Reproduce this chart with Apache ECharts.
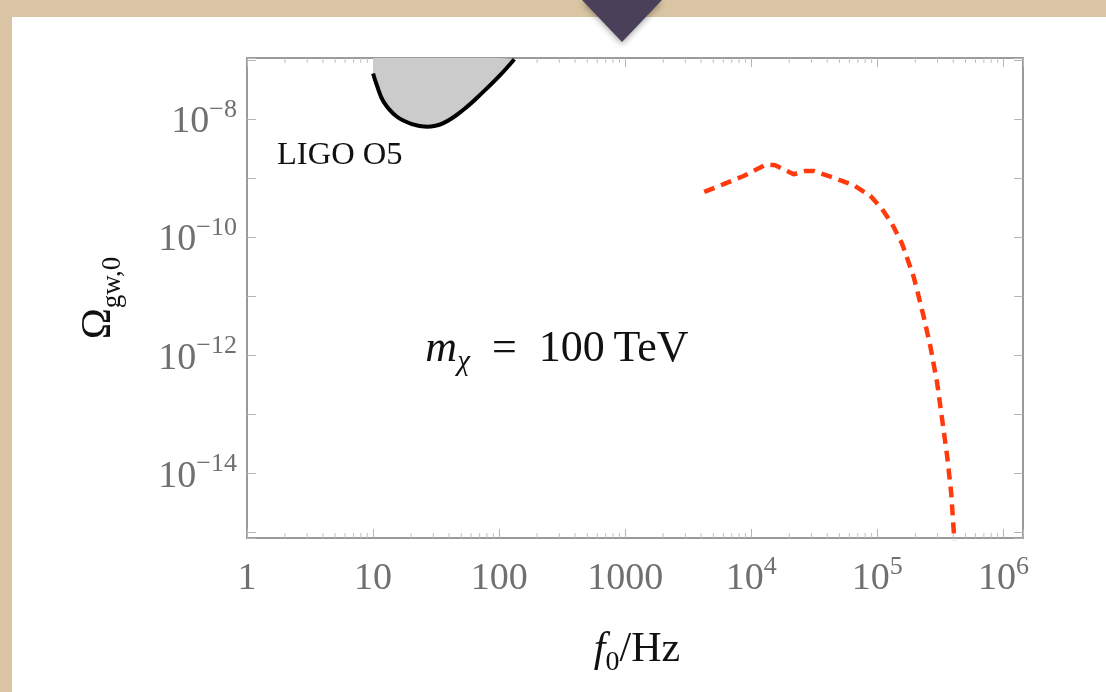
<!DOCTYPE html>
<html><head><meta charset="utf-8">
<script src="https://cdn.jsdelivr.net/npm/echarts@6/dist/echarts.min.js"></script>
<style>html,body{margin:0;padding:0;background:#d9c5a3;overflow:hidden}#c{width:1106px;height:692px}</style>
</head><body><div id="c"></div>
<script>
// LIGO O5 sensitivity curve (Hz, Omega)
const ligoFreq  = [10, 10.7, 12.1, 15.4, 20.3, 26.7, 36.1, 52.1, 75.1, 101.8, 132];
const ligoOmega = [6.0e-8, 3.83e-8, 2.01e-8, 1.12e-8, 8.34e-9, 7.54e-9, 8.67e-9, 1.46e-8, 2.96e-8, 5.64e-8, 1.05e-7];
// signal spectrum for m_chi = 100 TeV
const sigFreq  = [4236, 6026, 8690, 13150, 15490, 21660, 26850, 31200, 44980, 64840, 87960, 108900, 130900, 157100, 194200, 206600, 232900, 263400, 297800, 326200, 357300, 384600, 409000];
const sigOmega = [5.93e-10, 8.0e-10, 1.10e-9, 1.73e-9, 1.67e-9, 1.18e-9, 1.34e-9, 1.34e-9, 1.03e-9, 7.69e-10, 5.08e-10, 3.04e-10, 1.70e-10, 7.83e-11, 2.15e-11, 1.29e-11, 4.58e-12, 1.43e-12, 3.48e-13, 8.4e-14, 2.03e-14, 4.92e-15, 7e-16];
// tick labels keyed by decade exponent
const xTickLabels = {0:'{b|1}', 1:'{b|10}', 2:'{b|100}', 3:'{b|1000}', 4:'{b|10}{s|4}', 5:'{b|10}{s|5}', 6:'{b|10}{s|6}'};
const yTickLabels = {'-8':'{b|10}{s|\u22128}', '-10':'{b|10}{s|\u221210}', '-12':'{b|10}{s|\u221212}', '-14':'{b|10}{s|\u221214}'};
const minorMultipliers = [2,3,4,5,6,7,8,9];
const minorDecades = [1,10,100,1000,10000,100000,1000000];

const X_MIN = 1, X_MAX = 1.43e6, Y_MIN = 8.1e-16, Y_MAX = 1.1e-7;
const SERIF = "'Liberation Serif','DejaVu Serif',serif";
const labelRich = {
  b: {fontFamily: SERIF, fontSize: 38, color: '#707070', lineHeight: 44, verticalAlign: 'bottom'},
  s: {fontFamily: SERIF, fontSize: 26, color: '#707070', lineHeight: 24, verticalAlign: 'top'}
};
function decadeLabel(map) {
  return function (v) {
    const e = Math.log10(v), r = Math.round(e);
    if (Math.abs(e - r) > 1e-6) return '';
    return map[r] || '';
  };
}
const minorTicks = [];
minorDecades.forEach(d => minorMultipliers.forEach(m => { const v = d * m; if (v < X_MAX) minorTicks.push([v, Y_MIN]); }));

const frameLine = {show: true, onZero: false, lineStyle: {color: '#9a9a9a', width: 2}};
const tickStyle = {show: true, inside: true, length: 9, lineStyle: {color: '#b5b5b5', width: 1}};

const chart = echarts.init(document.getElementById('c'));
chart.setOption({
  animation: false,
  backgroundColor: 'transparent',
  grid: {left: 247, right: 83, top: 58, bottom: 154, containLabel: false},
  xAxis: [
    {type: 'log', logBase: 10, min: X_MIN, max: X_MAX, splitNumber: 6, position: 'bottom',
     axisLine: frameLine, axisTick: tickStyle, splitLine: {show: false}, minorTick: {show: false},
     axisLabel: {margin: 16, formatter: decadeLabel(xTickLabels), rich: labelRich, showMaxLabel: true, showMinLabel: true}},
    {type: 'log', logBase: 10, min: X_MIN, max: X_MAX, splitNumber: 6, position: 'top',
     axisLine: frameLine, axisTick: tickStyle, splitLine: {show: false}, axisLabel: {show: false}}
  ],
  yAxis: [
    {type: 'log', logBase: 10, min: Y_MIN, max: Y_MAX, splitNumber: 8, position: 'left',
     axisLine: frameLine, axisTick: tickStyle, splitLine: {show: false},
     axisLabel: {margin: 10, formatter: decadeLabel(yTickLabels), rich: labelRich, align: 'right'}},
    {type: 'log', logBase: 10, min: Y_MIN, max: Y_MAX, splitNumber: 8, position: 'right',
     axisLine: frameLine, axisTick: tickStyle, splitLine: {show: false}, axisLabel: {show: false}}
  ],
  series: [
    {type: 'line', name: 'LIGO O5', xAxisIndex: 0, yAxisIndex: 0,
     data: ligoFreq.map((f, i) => [f, ligoOmega[i]]), smooth: 0.4, symbol: 'none', clip: true,
     lineStyle: {color: '#000', width: 4},
     areaStyle: {color: '#cbcbcb', opacity: 1, origin: 'end'}, z: 3},
    {type: 'line', name: 'signal', xAxisIndex: 0, yAxisIndex: 0,
     data: sigFreq.map((f, i) => [f, sigOmega[i]]), symbol: 'none', clip: true,
     lineStyle: {color: '#ff3a0c', width: 4.5, type: [11, 7]}, z: 4},
    {type: 'custom', xAxisIndex: 0, yAxisIndex: 0, silent: true, clip: false, data: minorTicks,
     renderItem: function (params, api) {
       const x = api.value(0);
       const pb = api.coord([x, Y_MIN]);
       const pt = api.coord([x, Y_MAX]);
       return {type: 'group', children: [
         {type: 'line', shape: {x1: pb[0], y1: pb[1], x2: pb[0], y2: pb[1] - 5}, style: {stroke: '#c0c0c0', lineWidth: 1}},
         {type: 'line', shape: {x1: pt[0], y1: pt[1], x2: pt[0], y2: pt[1] + 5}, style: {stroke: '#c0c0c0', lineWidth: 1}}
       ]};
     }, z: 1}
  ],
  graphic: [
    {type: 'rect', z: -20, silent: true, shape: {x: 12, y: 17, width: 1100, height: 680}, style: {fill: '#ffffff'}},
    {type: 'polygon', z: -10, silent: true, shape: {points: [[582, 0], [662, 0], [622, 42]]},
     style: {fill: '#4b4059', shadowBlur: 6, shadowColor: 'rgba(0,0,0,0.35)', shadowOffsetY: 2}},
    {type: 'text', z: 50, silent: true, x: 277, y: 155,
     style: {text: 'LIGO O5', fontFamily: SERIF, fontSize: 32.5, fill: '#111', align: 'left', verticalAlign: 'middle'}},
    {type: 'text', z: 50, silent: true, x: 557, y: 352,
     style: {text: '{i|m}{c|\u03c7}{n|\u2002=\u2002100\u2009TeV}', align: 'center', verticalAlign: 'middle',
       rich: {
         i: {fontFamily: SERIF, fontStyle: 'italic', fontSize: 44, fill: '#111', lineHeight: 50, verticalAlign: 'top'},
         c: {fontFamily: SERIF, fontStyle: 'italic', fontSize: 29, fill: '#111', lineHeight: 30, verticalAlign: 'bottom'},
         n: {fontFamily: SERIF, fontSize: 44, fill: '#111', lineHeight: 50, verticalAlign: 'top'}
       }}},
    {type: 'text', z: 50, silent: true, x: 637, y: 653,
     style: {text: '{i|f}{c|0}{n|/Hz}', align: 'center', verticalAlign: 'middle',
       rich: {
         i: {fontFamily: SERIF, fontStyle: 'italic', fontSize: 42, fill: '#111', lineHeight: 48, verticalAlign: 'top'},
         c: {fontFamily: SERIF, fontSize: 28, fill: '#111', lineHeight: 28, verticalAlign: 'bottom'},
         n: {fontFamily: SERIF, fontSize: 42, fill: '#111', lineHeight: 48, verticalAlign: 'top'}
       }}},
    {type: 'text', z: 50, silent: true, x: 102, y: 298, rotation: Math.PI / 2,
     style: {text: '{o|\u03a9}{c|gw,0}', align: 'center', verticalAlign: 'middle',
       rich: {
         o: {fontFamily: SERIF, fontSize: 42, fill: '#111', lineHeight: 48, verticalAlign: 'top'},
         c: {fontFamily: SERIF, fontSize: 27, fill: '#111', lineHeight: 26, verticalAlign: 'bottom'}
       }}}
  ]
});
</script>
</body></html>
